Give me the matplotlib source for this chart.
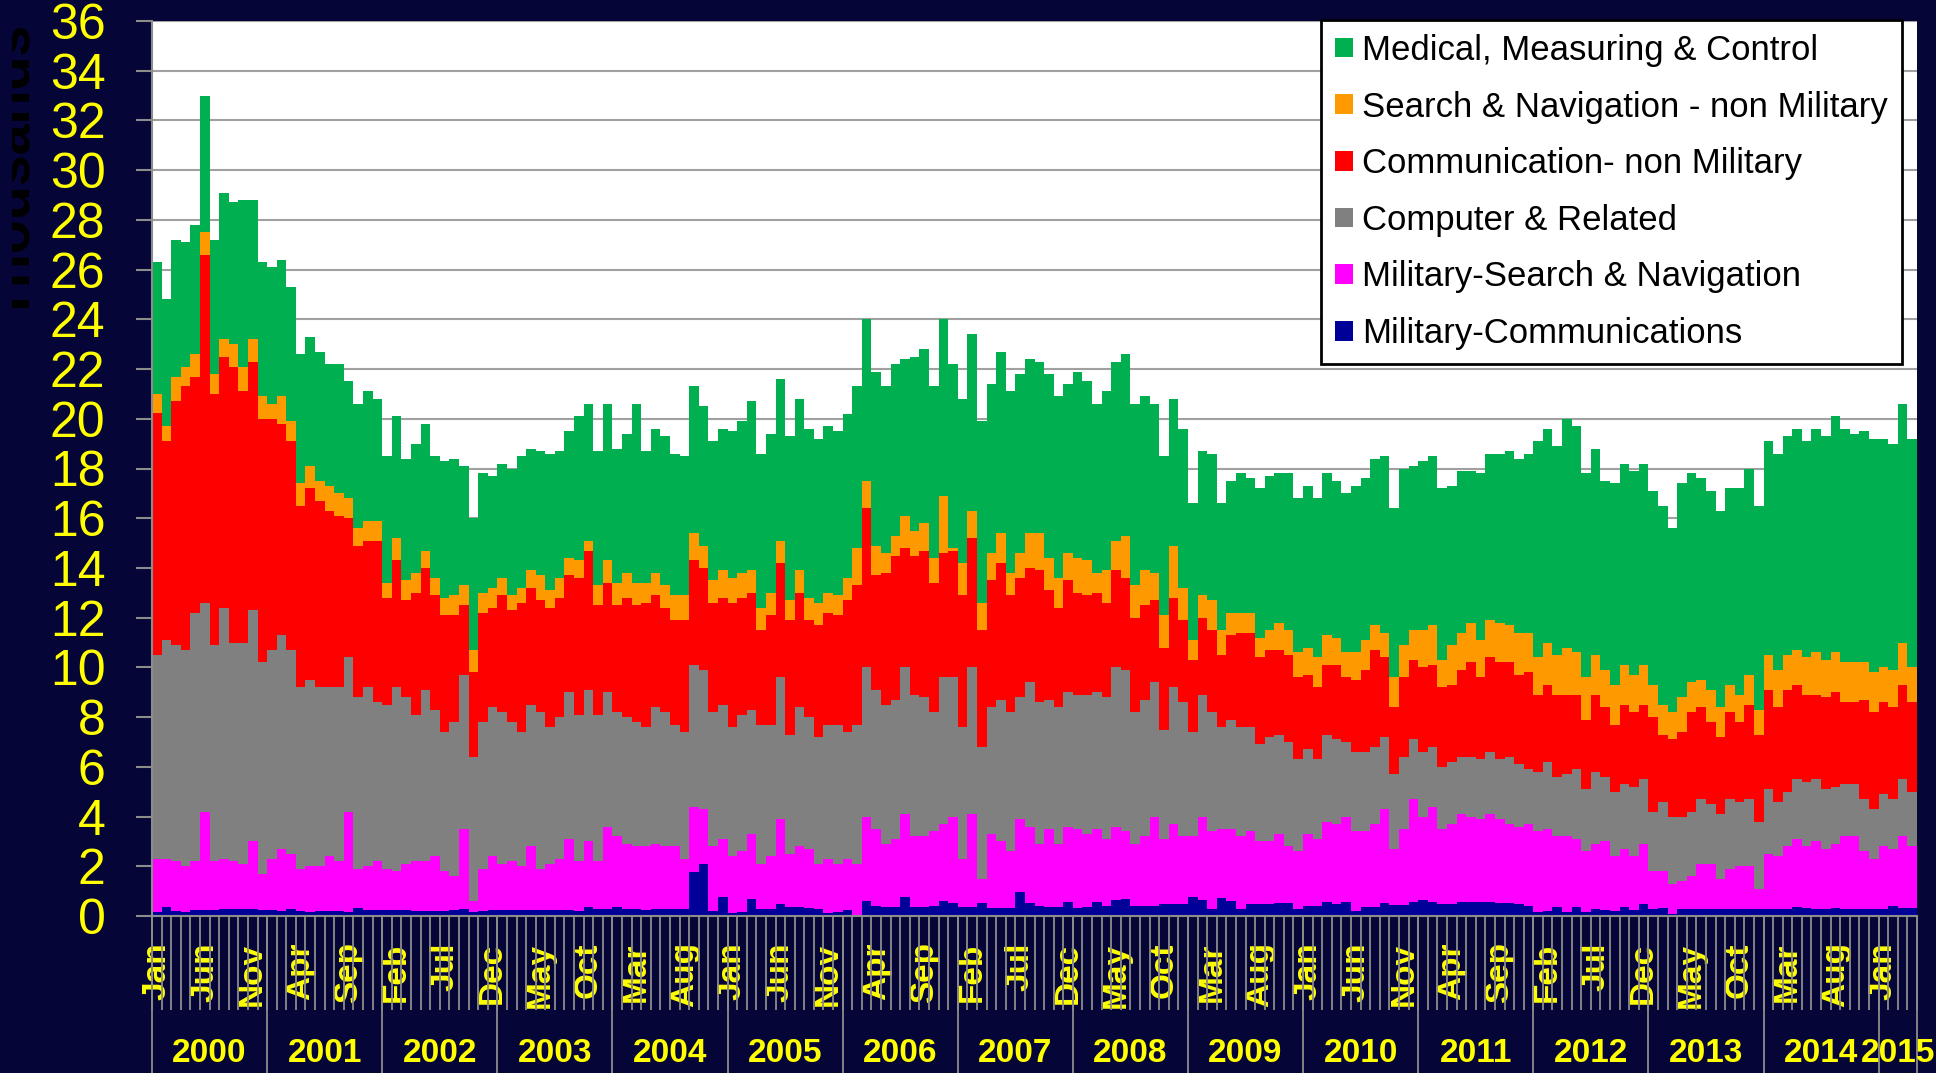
import numpy as np
import matplotlib
matplotlib.use('Agg')
import matplotlib.pyplot as plt
from matplotlib.patches import Patch
from matplotlib import transforms
from matplotlib.transforms import Bbox

plt.rcParams['font.family'] = ['Liberation Sans', 'DejaVu Sans']

# Datos mensuales (miles), ene 2000 - abr 2015
month_names = ['Jan', 'Feb', 'Mar', 'Apr', 'May', 'Jun',
               'Jul', 'Aug', 'Sep', 'Oct', 'Nov', 'Dec']
years = list(range(2000, 2016))
n_months = 184

mil_comm = [
    0.17, 0.38, 0.20, 0.17, 0.23, 0.25, 0.24, 0.30, 0.29, 0.30,
    0.28, 0.23, 0.25, 0.20, 0.29, 0.20, 0.17, 0.19, 0.21, 0.19,
    0.17, 0.33, 0.25, 0.24, 0.23, 0.24, 0.24, 0.20, 0.20, 0.21,
    0.20, 0.25, 0.27, 0.17, 0.20, 0.25, 0.25, 0.25, 0.25, 0.25,
    0.25, 0.25, 0.25, 0.25, 0.20, 0.35, 0.30, 0.28, 0.35, 0.30,
    0.28, 0.25, 0.30, 0.28, 0.30, 0.27, 1.76, 2.08, 0.20, 0.78,
    0.12, 0.17, 0.68, 0.27, 0.27, 0.47, 0.35, 0.35, 0.31, 0.27,
    0.12, 0.17, 0.25, 0.04, 0.62, 0.42, 0.35, 0.35, 0.78, 0.35,
    0.35, 0.42, 0.62, 0.54, 0.35, 0.35, 0.51, 0.31, 0.31, 0.31,
    0.95, 0.54, 0.42, 0.35, 0.35, 0.58, 0.34, 0.35, 0.58, 0.42,
    0.64, 0.68, 0.42, 0.42, 0.42, 0.48, 0.48, 0.48, 0.78, 0.64,
    0.27, 0.74, 0.60, 0.27, 0.47, 0.47, 0.47, 0.51, 0.51, 0.27,
    0.42, 0.42, 0.58, 0.48, 0.58, 0.21, 0.35, 0.35, 0.52, 0.44,
    0.44, 0.58, 0.63, 0.58, 0.50, 0.47, 0.58, 0.58, 0.55, 0.58,
    0.51, 0.51, 0.48, 0.42, 0.17, 0.20, 0.35, 0.17, 0.35, 0.17,
    0.27, 0.23, 0.21, 0.35, 0.25, 0.47, 0.28, 0.34, 0.10, 0.27,
    0.27, 0.27, 0.27, 0.27, 0.27, 0.27, 0.27, 0.27, 0.27, 0.27,
    0.27, 0.35, 0.31, 0.27, 0.27, 0.34, 0.27, 0.27, 0.27, 0.27,
    0.27, 0.42, 0.31, 0.31]

mil_nav = [
    2.13, 1.92, 2.00, 1.83, 1.97, 3.95, 1.96, 2.00, 1.91, 1.80,
    2.72, 1.47, 2.05, 2.50, 2.21, 1.70, 1.83, 1.81, 2.19, 2.01,
    4.03, 1.57, 1.75, 1.96, 1.67, 1.56, 1.86, 2.00, 2.00, 2.19,
    1.60, 1.35, 3.23, 0.43, 1.70, 2.15, 1.85, 1.95, 1.75, 2.55,
    1.65, 1.85, 2.05, 2.85, 2.00, 2.65, 1.90, 3.32, 2.85, 2.60,
    2.52, 2.55, 2.60, 2.52, 2.50, 2.03, 2.64, 2.22, 2.60, 2.32,
    2.28, 2.43, 2.62, 1.83, 2.13, 3.43, 2.15, 2.45, 2.39, 1.83,
    2.18, 1.93, 2.05, 2.06, 3.38, 3.08, 2.55, 2.75, 3.32, 2.85,
    2.85, 2.98, 3.08, 3.46, 1.95, 3.75, 0.99, 2.99, 2.69, 2.29,
    2.95, 3.06, 2.48, 3.15, 2.55, 3.02, 3.16, 2.95, 2.92, 2.68,
    2.96, 2.72, 2.48, 2.78, 3.58, 2.62, 3.22, 2.72, 2.42, 3.36,
    3.13, 2.76, 2.90, 2.93, 2.93, 2.53, 2.53, 2.79, 2.29, 2.33,
    2.88, 2.68, 3.22, 3.22, 3.42, 3.19, 3.05, 3.35, 3.78, 2.26,
    3.06, 4.12, 3.37, 3.82, 3.00, 3.23, 3.52, 3.42, 3.35, 3.52,
    3.39, 3.19, 3.12, 3.28, 3.23, 3.30, 2.85, 3.03, 2.75, 2.43,
    2.63, 2.77, 2.19, 2.35, 2.15, 2.43, 1.52, 1.46, 1.20, 1.13,
    1.33, 1.83, 1.83, 1.23, 1.63, 1.73, 1.73, 0.83, 2.23, 2.13,
    2.53, 2.75, 2.49, 2.73, 2.43, 2.56, 2.93, 2.93, 2.33, 2.03,
    2.53, 2.28, 2.89, 2.49]

computer = [
    8.2, 8.8, 8.7, 8.7, 10.0, 8.4, 8.7, 10.1, 8.8, 8.9,
    9.3, 8.5, 8.4, 8.6, 8.2, 7.3, 7.5, 7.2, 6.8, 7.0,
    6.2, 6.9, 7.2, 6.4, 6.6, 7.4, 6.7, 5.9, 6.9, 5.9,
    5.6, 6.2, 6.2, 5.8, 5.9, 6.0, 6.1, 5.6, 5.4, 5.7,
    6.3, 5.5, 5.7, 5.9, 5.9, 6.1, 5.9, 5.4, 5.0, 5.1,
    5.0, 4.8, 5.5, 5.4, 4.9, 5.1, 5.7, 5.6, 5.4, 5.4,
    5.2, 5.5, 5.0, 5.6, 5.3, 5.7, 4.8, 5.6, 5.3, 5.1,
    5.4, 5.6, 5.1, 5.6, 6.0, 5.6, 5.6, 5.6, 5.9, 5.7,
    5.6, 4.8, 5.9, 5.6, 5.3, 5.9, 5.3, 5.1, 5.7, 5.6,
    4.9, 5.8, 5.7, 5.2, 5.5, 5.4, 5.4, 5.6, 5.5, 5.7,
    6.4, 6.5, 5.3, 5.5, 5.4, 4.4, 5.5, 5.4, 4.2, 4.9,
    4.8, 4.1, 4.4, 4.4, 4.2, 3.9, 4.2, 4.0, 4.2, 3.7,
    3.4, 3.2, 3.5, 3.4, 3.0, 3.2, 3.2, 3.1, 2.9, 3.0,
    2.9, 2.4, 2.6, 2.4, 2.5, 2.5, 2.3, 2.4, 2.4, 2.5,
    2.4, 2.7, 2.5, 2.2, 2.4, 2.7, 2.4, 2.5, 2.8, 2.5,
    2.9, 2.6, 2.6, 2.6, 2.8, 2.6, 2.4, 2.8, 2.7, 2.6,
    2.6, 2.6, 2.4, 2.6, 2.8, 2.6, 2.7, 2.7, 2.6, 2.2,
    2.2, 2.4, 2.6, 2.5, 2.4, 2.3, 2.1, 2.1, 2.1, 2.0,
    2.1, 2.0, 2.3, 2.2]

comm_nonmil = [
    9.75, 8.0, 9.8, 10.6, 9.5, 14.0, 10.1, 10.1, 11.1, 10.1,
    10.0, 9.8, 9.3, 8.5, 8.4, 7.3, 7.7, 7.5, 7.1, 6.9,
    5.6, 6.1, 5.9, 6.5, 4.3, 5.1, 3.9, 4.9, 4.9, 4.6,
    4.7, 4.3, 2.8, 3.4, 4.4, 4.0, 4.7, 4.5, 5.2, 4.7,
    4.5, 4.8, 4.8, 4.7, 5.5, 5.6, 4.4, 4.4, 4.3, 4.8,
    4.7, 5.0, 4.5, 4.2, 4.2, 4.5, 4.2, 4.1, 4.4, 4.3,
    5.0, 4.7, 4.7, 3.8, 4.4, 4.6, 4.6, 4.6, 3.9, 4.5,
    4.5, 4.4, 5.3, 5.6, 6.4, 4.6, 5.3, 5.8, 4.8, 5.6,
    5.9, 5.2, 5.0, 5.1, 5.3, 5.2, 4.7, 5.1, 5.5, 4.7,
    4.8, 4.6, 5.3, 4.4, 4.0, 4.5, 4.1, 4.0, 4.0, 3.8,
    3.9, 3.7, 3.8, 3.8, 3.3, 3.3, 3.6, 3.3, 2.9, 3.1,
    3.3, 2.9, 3.4, 3.8, 3.8, 3.5, 3.5, 3.4, 3.5, 3.3,
    3.0, 2.9, 2.8, 3.0, 2.6, 2.9, 3.3, 3.9, 3.2, 2.7,
    3.2, 3.2, 3.4, 3.3, 3.2, 3.1, 3.5, 3.8, 3.3, 3.8,
    3.9, 3.8, 3.6, 3.9, 3.1, 3.1, 3.3, 3.2, 3.0, 2.8,
    3.1, 2.8, 2.7, 3.2, 3.0, 3.0, 3.8, 2.7, 3.1, 3.4,
    4.0, 3.7, 3.3, 3.1, 3.5, 3.2, 3.8, 3.5, 4.0, 3.8,
    4.1, 3.8, 3.5, 3.4, 3.7, 3.8, 3.3, 3.3, 4.0, 3.9,
    3.7, 3.7, 3.8, 3.6]

nav_nonmil = [
    0.75, 0.6, 1.0, 0.8, 0.9, 0.9, 0.8, 0.7, 0.9, 1.0,
    0.9, 0.9, 0.6, 1.1, 0.8, 0.9, 0.9, 0.8, 1.0, 0.9,
    0.8, 0.7, 0.8, 0.8, 0.6, 0.9, 0.8, 0.8, 0.7, 0.7,
    0.7, 0.8, 0.8, 0.9, 0.8, 0.8, 0.7, 0.6, 0.6, 0.7,
    1.0, 0.7, 0.8, 0.7, 0.7, 0.4, 0.8, 0.9, 0.9, 1.0,
    0.9, 0.8, 0.9, 0.9, 1.0, 1.0, 1.1, 0.9, 0.9, 1.1,
    1.0, 1.0, 0.9, 0.9, 0.9, 0.9, 0.8, 0.9, 0.9, 0.9,
    0.8, 0.8, 0.9, 1.5, 1.1, 1.2, 0.8, 0.8, 1.3, 1.0,
    1.1, 1.0, 2.3, 0.1, 1.3, 1.1, 1.1, 1.1, 1.2, 0.9,
    1.0, 1.4, 1.5, 1.3, 1.2, 1.1, 1.4, 1.4, 0.8, 1.3,
    1.2, 1.7, 1.3, 1.4, 1.1, 1.3, 2.1, 1.3, 0.8, 0.9,
    1.2, 1.0, 0.9, 0.8, 0.8, 0.8, 0.8, 1.1, 1.0, 1.0,
    1.1, 1.2, 1.2, 1.1, 1.0, 1.1, 1.2, 1.0, 1.0, 1.2,
    1.3, 1.2, 1.5, 1.6, 1.1, 1.6, 1.5, 1.6, 1.5, 1.5,
    1.6, 1.5, 1.7, 1.6, 1.5, 1.7, 1.6, 1.9, 1.7, 1.7,
    1.6, 1.5, 1.6, 1.6, 1.5, 1.6, 1.3, 1.2, 1.1, 1.4,
    1.2, 1.1, 1.3, 1.2, 1.1, 1.1, 1.2, 1.0, 1.4, 1.5,
    1.4, 1.4, 1.5, 1.7, 1.5, 1.6, 1.6, 1.6, 1.5, 1.6,
    1.4, 1.5, 1.7, 1.4]

medical = [
    5.3, 5.1, 5.5, 5.0, 5.2, 5.5, 5.4, 5.9, 5.7, 6.7,
    5.6, 5.4, 5.5, 5.5, 5.4, 5.2, 5.2, 5.2, 4.9, 5.2,
    4.7, 5.0, 5.2, 4.9, 5.1, 4.9, 4.9, 5.2, 5.1, 4.9,
    5.5, 5.5, 4.8, 5.3, 4.8, 4.5, 4.6, 5.1, 5.3, 4.9,
    5.0, 5.5, 5.1, 5.1, 5.8, 5.5, 5.4, 6.3, 5.4, 5.6,
    7.2, 5.3, 5.8, 6.0, 5.7, 5.6, 5.9, 5.6, 5.6, 5.7,
    5.9, 6.1, 6.8, 6.2, 6.4, 6.5, 6.6, 6.9, 6.8, 6.6,
    6.7, 6.6, 6.6, 6.5, 6.5, 7.0, 6.7, 6.9, 6.3, 7.0,
    7.0, 6.9, 7.1, 7.4, 6.6, 7.1, 7.3, 6.8, 7.3, 7.3,
    7.2, 7.0, 6.9, 7.4, 7.3, 6.8, 7.5, 7.2, 6.8, 7.2,
    7.2, 7.3, 7.3, 7.0, 6.8, 6.4, 5.9, 6.4, 5.5, 5.8,
    5.9, 5.1, 5.3, 5.6, 5.4, 6.0, 6.2, 6.0, 6.3, 6.2,
    6.5, 6.4, 6.5, 6.3, 6.4, 6.7, 6.5, 6.7, 7.1, 6.8,
    7.1, 6.6, 6.8, 6.8, 6.9, 6.4, 6.5, 6.1, 6.7, 6.7,
    6.8, 7.0, 7.0, 7.2, 8.7, 8.6, 8.4, 9.2, 9.1, 8.2,
    8.3, 7.6, 8.1, 8.1, 8.2, 8.1, 7.8, 8.0, 7.4, 8.6,
    8.4, 8.1, 8.0, 7.9, 7.9, 8.3, 8.3, 8.2, 8.6, 8.7,
    8.8, 8.9, 8.7, 9.0, 9.0, 9.5, 9.4, 9.2, 9.3, 9.4,
    9.2, 9.1, 9.6, 9.2]

# Orden de apilado: de abajo hacia arriba
series = [mil_comm, mil_nav, computer, comm_nonmil, nav_nonmil, medical]
labels = ['Military-Communications', 'Military-Search & Navigation',
          'Computer & Related', 'Communication- non Military',
          'Search & Navigation - non Military', 'Medical, Measuring & Control']
colors = ['#000099', '#FF00FF', '#808080', '#FF0000', '#FF9900', '#00B050']

bg = '#050538'
yellow = '#FFFF00'
W, H = 1936, 1073

fig = plt.figure(figsize=(W / 100, H / 100), dpi=100, facecolor=bg)
ax = fig.add_axes([152 / W, (H - 916) / H, (1917 - 152) / W, (916 - 21) / H])
ax.set_facecolor('white')

x = np.arange(n_months)
bottom = np.zeros(n_months)
for vals, lab, col in zip(series, labels, colors):
    vals = np.array(vals)
    ax.bar(x, vals, width=1.0, bottom=bottom, color=col, linewidth=0, label=lab)
    bottom += vals

ax.set_xlim(-0.5, n_months - 0.5)
ax.set_ylim(0, 36)
ax.set_yticks(np.arange(0, 37, 2))
ax.yaxis.grid(True, color='#A0A0A0', linewidth=1.5)
ax.set_axisbelow(True)

for s in ['top', 'right']:
    ax.spines[s].set_visible(False)
for s in ['left', 'bottom']:
    ax.spines[s].set_color('#8C8C8C')
    ax.spines[s].set_linewidth(1.5)

ax.tick_params(axis='y', colors='#8C8C8C', length=11.5, width=1.5, pad=22,
               labelsize=36, labelcolor=yellow)

# etiquetas de mes cada 5 meses
tick_pos = np.arange(0, n_months, 5)
ax.set_xticks(tick_pos)
ax.set_xticklabels([month_names[i % 12] for i in tick_pos], rotation=90,
                   fontsize=24, fontweight='bold', color=yellow)
ax.tick_params(axis='x', length=0, pad=19)

# lineas de separacion de meses y años
trans = transforms.blended_transform_factory(ax.transData, ax.transAxes)
ax.vlines(np.arange(n_months + 1) - 0.5, -94 / 895, 0, transform=trans,
          colors='#8C8C8C', linewidth=1.3, clip_on=False)
year_edges = [12 * (y - 2000) - 0.5 for y in years] + [n_months - 0.5]
ax.vlines(year_edges, -0.2, 0, transform=trans, colors='#8C8C8C',
          linewidth=1.3, clip_on=False)

ytrans = transforms.blended_transform_factory(ax.transData, fig.transFigure)
for i, yr in enumerate(years):
    x0 = year_edges[i]
    x1 = year_edges[i + 1]
    ax.text((x0 + x1) / 2, (H - 1053) / H, str(yr), transform=ytrans,
            ha='center', va='center', fontsize=24, fontweight='bold',
            color=yellow, clip_on=False)

# titulo del eje y, recortado a la izquierda como en el original
ylab = fig.text(29 / W, 1 - 172 / H, 'Thousands', rotation=90,
                rotation_mode='anchor', ha='center', va='baseline',
                fontsize=40, fontweight='bold', color='black')
ylab.set_clip_box(Bbox.from_extents(11.5, 0, W, H))
ylab.set_clip_on(True)

handles = [Patch(facecolor=c, edgecolor='none') for c in colors[::-1]]
leg = fig.legend(handles, labels[::-1], loc='upper right',
                 bbox_to_anchor=(1902 / W, 1 - 20 / H), fontsize=25,
                 frameon=True, fancybox=False, shadow=False, borderpad=0.4,
                 handlelength=0.5, handleheight=0.5, handletextpad=0.28,
                 labelspacing=0.68, borderaxespad=0)
leg.get_frame().set_edgecolor('black')
leg.get_frame().set_linewidth(2)
leg.get_frame().set_facecolor('white')
leg.get_frame().set_alpha(1)

fig.savefig('out.png', dpi=100, facecolor=bg)
